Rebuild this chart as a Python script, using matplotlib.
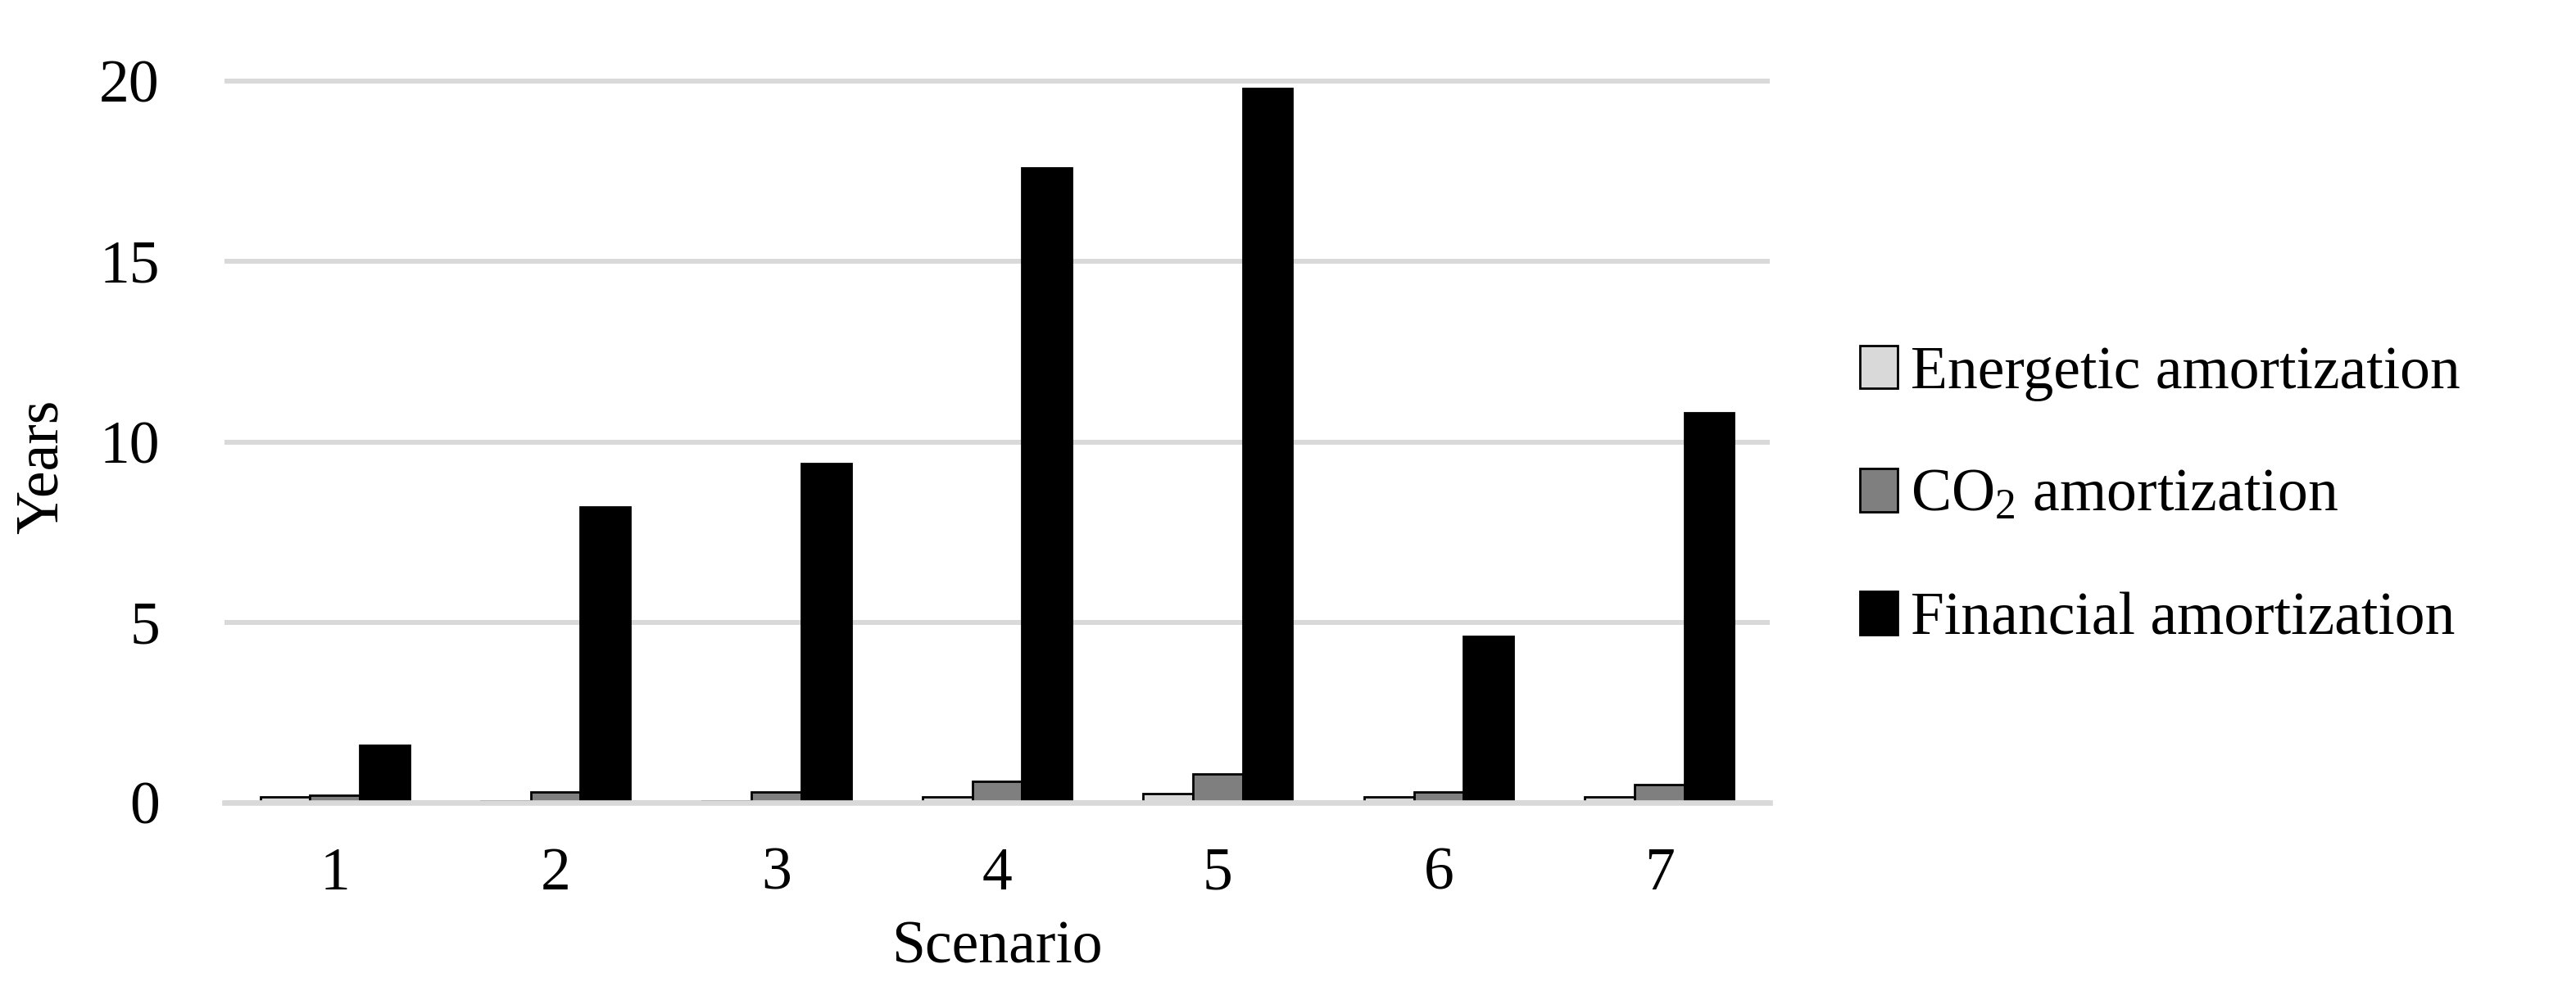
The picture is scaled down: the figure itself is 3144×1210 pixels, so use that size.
import matplotlib
matplotlib.use("Agg")
import matplotlib.pyplot as plt
import numpy as np

# ---- data ----
scenarios = ["1", "2", "3", "4", "5", "6", "7"]
energetic = [0.15, 0.05, 0.05, 0.15, 0.25, 0.15, 0.15]
co2 = [0.2, 0.3, 0.3, 0.6, 0.8, 0.3, 0.5]
financial = [1.6, 8.2, 9.4, 17.6, 19.8, 4.6, 10.8]
series_labels = ["Energetic amortization", "CO$_\\mathregular{2}$ amortization", "Financial amortization"]
yticks = [0, 5, 10, 15, 20]

plt.rcParams['font.family'] = ['Liberation Serif', 'DejaVu Serif']
plt.rcParams['mathtext.fontset'] = 'custom'
plt.rcParams['mathtext.rm'] = 'Liberation Serif'
plt.rcParams['mathtext.it'] = 'Liberation Serif:italic'
plt.rcParams['mathtext.bf'] = 'Liberation Serif:bold'

FS = 53
W, H = 3144, 1210
fig = plt.figure(figsize=(W / 100, H / 100), dpi=100)
ax_left, ax_right = 274, 2160
ax_bot, ax_top20 = 980, 99
ytop = 20.1
h_px = (ax_bot - ax_top20) * ytop / 20
ax = fig.add_axes([ax_left / W, 1 - ax_bot / H, (ax_right - ax_left) / W, h_px / H])

x = np.arange(1, len(scenarios) + 1)
bw = 0.225
colors = ["#d9d9d9", "#7f7f7f", "#000000"]
for i, (vals, col, lab) in enumerate(zip([energetic, co2, financial], colors, series_labels)):
    ax.bar(x + (i - 1) * bw, vals, width=bw, color=col, edgecolor="black",
           linewidth=2.0, label=lab, zorder=3)

ax.set_xlim(0.5, len(scenarios) + 0.5)
ax.set_ylim(0, ytop)
ax.set_yticks(yticks)
ax.set_xticks(x)
ax.set_xticklabels(scenarios)
ax.yaxis.grid(True, color="#d9d9d9", linewidth=4.3, zorder=0)
ax.set_axisbelow(True)
for s in ["top", "right", "left"]:
    ax.spines[s].set_visible(False)
ax.spines["bottom"].set_color("#d9d9d9")
ax.spines["bottom"].set_linewidth(4.8)
ax.spines["bottom"].set_zorder(4)
ax.tick_params(axis="both", length=0, labelsize=FS)
ax.tick_params(axis="x", pad=39)
ax.tick_params(axis="y", pad=57)

ax.set_xlabel("Scenario", fontsize=FS, labelpad=16)
fig.text(52 / W, 1 - 570 / H, "Years", rotation=90, ha="center", va="center", fontsize=FS)

leg = fig.legend(loc="center left", bbox_to_anchor=(2270 / W, 1 - 606 / H),
                 frameon=False, fontsize=FS, handlelength=0.62, handleheight=0.72,
                 handletextpad=0.22, labelspacing=1.12, borderpad=0, borderaxespad=0)

fig.savefig("out.png", dpi=100)
